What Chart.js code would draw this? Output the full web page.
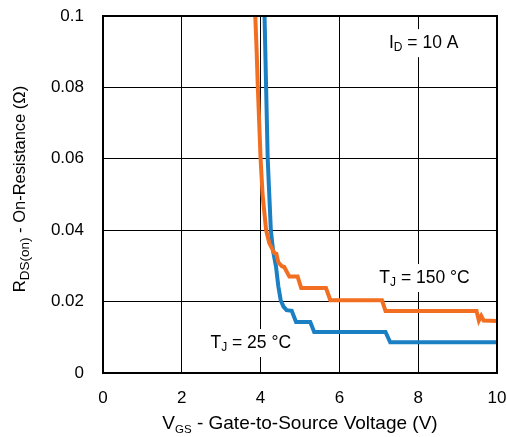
<!DOCTYPE html>
<html>
<head>
<meta charset="utf-8">
<script src="https://cdn.jsdelivr.net/npm/chart.js@4.4.0/dist/chart.umd.min.js"></script>
<style>
  html, body { margin: 0; padding: 0; background: #fff; }
  #wrap { width: 507px; height: 437px; }
</style>
</head>
<body>
<div id="wrap"><canvas id="rdsChart" width="507" height="437"></canvas></div>
<script>
// ---- data ----
const X_TICKS = [0, 2, 4, 6, 8, 10];
const X_TICK_LABELS = ['0', '2', '4', '6', '8', '10'];
const Y_TICKS = [0, 0.02, 0.04, 0.06, 0.08, 0.1];
const Y_TICK_LABELS = ['0', '0.02', '0.04', '0.06', '0.08', '0.1'];

// TJ = 150 °C
const VGS_150 = [3.865, 3.90, 3.93, 3.965, 4.00, 4.05, 4.14, 4.22, 4.35, 4.40, 4.45, 4.54, 4.60, 4.73, 4.94, 5.03, 5.66, 5.77, 7.08, 7.17, 9.48, 9.54, 9.60, 9.66, 10];
const RDS_150 = [0.1, 0.09, 0.08, 0.07, 0.06, 0.05, 0.04, 0.0364, 0.0336, 0.0334, 0.031, 0.0299, 0.0297, 0.027, 0.027, 0.0238, 0.0238, 0.0204, 0.0204, 0.0174, 0.0174, 0.0147, 0.016, 0.0147, 0.0146];

// TJ = 25 °C
const VGS_25 = [4.10, 4.14, 4.18, 4.22, 4.26, 4.32, 4.39, 4.45, 4.51, 4.58, 4.66, 4.79, 4.90, 5.26, 5.36, 7.17, 7.29, 10];
const RDS_25 = [0.1, 0.08, 0.06, 0.05, 0.04, 0.034, 0.0299, 0.0243, 0.0204, 0.0186, 0.0176, 0.0174, 0.0143, 0.0143, 0.0115, 0.0115, 0.0086, 0.0086];

const ORANGE = '#F26F22';
const BLUE = '#1B7FC4';
const FONT = '"Liberation Sans", Arial, sans-serif';

// text with subscripts: parts = [[text, size, drop], ...]
function richWidth(ctx, parts) {
    let w = 0;
    parts.forEach(([t, sz]) => { ctx.font = sz + 'px ' + FONT; w += ctx.measureText(t).width; });
    return w;
}
function drawRich(ctx, parts, x, y) {
    let cx = x;
    ctx.textBaseline = 'middle';
    ctx.textAlign = 'left';
    parts.forEach(([t, sz, drop]) => {
        ctx.font = sz + 'px ' + FONT;
        ctx.fillText(t, cx, y + (drop || 0));
        cx += ctx.measureText(t).width;
    });
}

const NOTES = [
    { parts: [['I', 17.5], ['D', 12, 5], [' = 10 A', 17.5]], x: 8.14, y: 0.0924 },
    { parts: [['T', 17.5], ['J', 12, 5], [' = 150 °C', 17.5]], x: 8.16, y: 0.0266 },
    { parts: [['T', 17.5], ['J', 12, 5], [' = 25 °C', 17.5]], x: 3.75, y: 0.0084 },
];

const decorPlugin = {
    id: 'decor',
    afterDatasetsDraw(chart) {
        const { ctx, chartArea: a, scales: { x, y } } = chart;
        ctx.save();
        // notes with white backing
        NOTES.forEach(n => {
            const w = richWidth(ctx, n.parts);
            const cx = x.getPixelForValue(n.x), cy = y.getPixelForValue(n.y);
            ctx.fillStyle = '#fff';
            ctx.fillRect(cx - w / 2 - 3, cy - 14, w + 6, 28);
            ctx.fillStyle = '#000';
            drawRich(ctx, n.parts, cx - w / 2, cy);
        });
        // frame
        ctx.strokeStyle = '#000';
        ctx.lineWidth = 2;
        ctx.strokeRect(a.left, a.top, a.right - a.left, a.bottom - a.top);
        // axis titles
        ctx.fillStyle = '#000';
        const xt = [['V', 19], ['GS', 11.5, 6], [' - Gate-to-Source Voltage (V)', 19]];
        const xw = richWidth(ctx, xt);
        drawRich(ctx, xt, (a.left + a.right) / 2 - xw / 2, 424);
        const yt = [['R', 16.5], ['DS(on)', 13.5, 5], [' - On-Resistance (Ω)', 16.5]];
        const yw = richWidth(ctx, yt);
        ctx.translate(20, 189);
        ctx.rotate(-Math.PI / 2);
        drawRich(ctx, yt, -yw / 2, 0);
        ctx.restore();
    }
};

const toPts = (xs, ys) => xs.map((v, i) => ({ x: v, y: ys[i] }));

new Chart(document.getElementById('rdsChart').getContext('2d'), {
    type: 'scatter',
    data: {
        datasets: [
            { label: 'TJ = 150 °C', data: toPts(VGS_150, RDS_150), showLine: true, borderColor: ORANGE, borderWidth: 4, pointRadius: 0, tension: 0 },
            { label: 'TJ = 25 °C', data: toPts(VGS_25, RDS_25), showLine: true, borderColor: BLUE, borderWidth: 4, pointRadius: 0, tension: 0 },
        ]
    },
    options: {
        responsive: false,
        animation: false,
        devicePixelRatio: 1,
        layout: { padding: { top: 16, right: 10, left: 0, bottom: 0 } },
        plugins: { legend: { display: false }, tooltip: { enabled: false } },
        scales: {
            x: {
                type: 'linear', min: 0, max: 10,
                afterBuildTicks: s => { s.ticks = X_TICKS.map(v => ({ value: v })); },
                afterFit: s => { s.height = 64; s.paddingLeft = 0; s.paddingRight = 0; },
                ticks: { callback: (v, i) => X_TICK_LABELS[i], color: '#000', font: { size: 17, family: FONT }, padding: 15, maxRotation: 0 },
                grid: { color: '#000', lineWidth: 1, drawTicks: false },
                border: { display: false }
            },
            y: {
                type: 'linear', min: 0, max: 0.1,
                afterBuildTicks: s => { s.ticks = Y_TICKS.map(v => ({ value: v })); },
                afterFit: s => { s.width = 103; s.paddingTop = 0; s.paddingBottom = 0; },
                ticks: { callback: (v, i) => Y_TICK_LABELS[i], color: '#000', font: { size: 17, family: FONT }, padding: 19 },
                grid: { color: '#000', lineWidth: 1, drawTicks: false },
                border: { display: false }
            }
        }
    },
    plugins: [decorPlugin]
});
</script>
</body>
</html>
